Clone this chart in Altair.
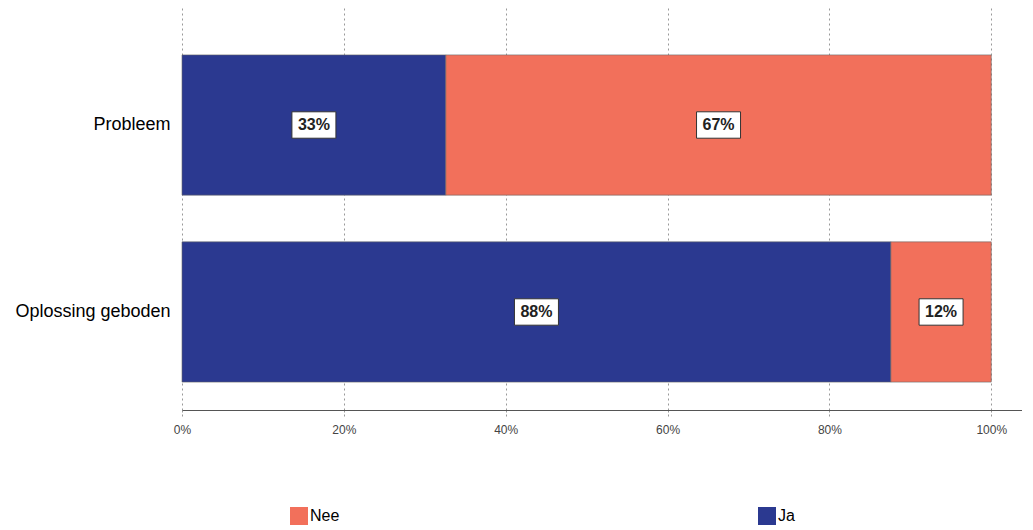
import altair as alt
import pandas as pd

categories = ["Probleem", "Oplossing geboden"]
ja = [32.6, 87.6]
nee = [67.4, 12.4]
series = ["Ja", "Nee"]
colors = ["#2b3990", "#f2705b"]
tick_values = [0, 0.2, 0.4, 0.6, 0.8, 1.0]

rows = []
for i, c in enumerate(categories):
    start = 0.0
    for s, vals, o in (("Ja", ja, 0), ("Nee", nee, 1)):
        v = vals[i] / 100.0
        rows.append({"cat": c, "serie": s, "order": o, "start": start,
                     "end": start + v, "mid": start + v / 2, "val": v})
        start += v
df = pd.DataFrame(rows)

yscale = alt.Scale(domain=categories, paddingInner=0.25, paddingOuter=0.2, align=0.627)
xscale = alt.Scale(domain=[0, 1.038], nice=False)

bars = alt.Chart(df).mark_bar(stroke="#666", strokeWidth=0.6).encode(
    y=alt.Y("cat:N", scale=yscale, sort=categories, title=None,
            axis=alt.Axis(labelFontSize=18, labelColor="#000", labelFont="Liberation Sans",
                          ticks=False, domain=False, labelPadding=12, labelLimit=200)),
    x=alt.X("start:Q", scale=xscale, title=None,
            axis=alt.Axis(values=tick_values, format=".0%", labelFontSize=12,
                          labelColor="#444", labelFont="Liberation Sans",
                          labelFlush=False,
                          grid=True, gridDash=[2, 3], gridColor="#999",
                          domainColor="#555", domainWidth=1.2, tickColor="#999",
                          tickDash=[2, 2], tickSize=6, labelPadding=8)),
    x2="end:Q",
    color=alt.Color("serie:N", scale=alt.Scale(domain=["Nee", "Ja"], range=[colors[1], colors[0]]),
                    legend=alt.Legend(title=None, orient="none", legendX=108, legendY=499,
                                      direction="horizontal", symbolType="square",
                                      symbolSize=324, symbolStrokeWidth=0,
                                      labelFontSize=16, labelFont="Liberation Sans",
                                      labelColor="#000", columnPadding=418,
                                      labelOffset=2)),
    order=alt.Order("order:Q"),
)

boxes = alt.Chart(df).mark_point(
    shape="M-1,-0.6L1,-0.6L1,0.6L-1,0.6Z", size=1936, filled=True,
    fill="white", stroke="#333", strokeWidth=1, opacity=1,
).encode(
    y=alt.Y("cat:N", scale=yscale, sort=categories),
    x=alt.X("mid:Q", scale=xscale),
)

labels = alt.Chart(df).mark_text(fontSize=16, font="Liberation Sans", color="#222",
                                 fontWeight="bold").encode(
    y=alt.Y("cat:N", scale=yscale, sort=categories),
    x=alt.X("mid:Q", scale=xscale),
    text=alt.Text("val:Q", format=".0%"),
)

chart = alt.layer(bars, boxes, labels).properties(
    width=840, height=402,
    autosize=alt.AutoSizeParams(type="none"),
    padding={"left": 174, "top": 0, "right": 0, "bottom": 120},
).configure(background="white").configure_view(stroke=None)

chart.save("out.html", embed_options={"renderer": "svg", "actions": False})
